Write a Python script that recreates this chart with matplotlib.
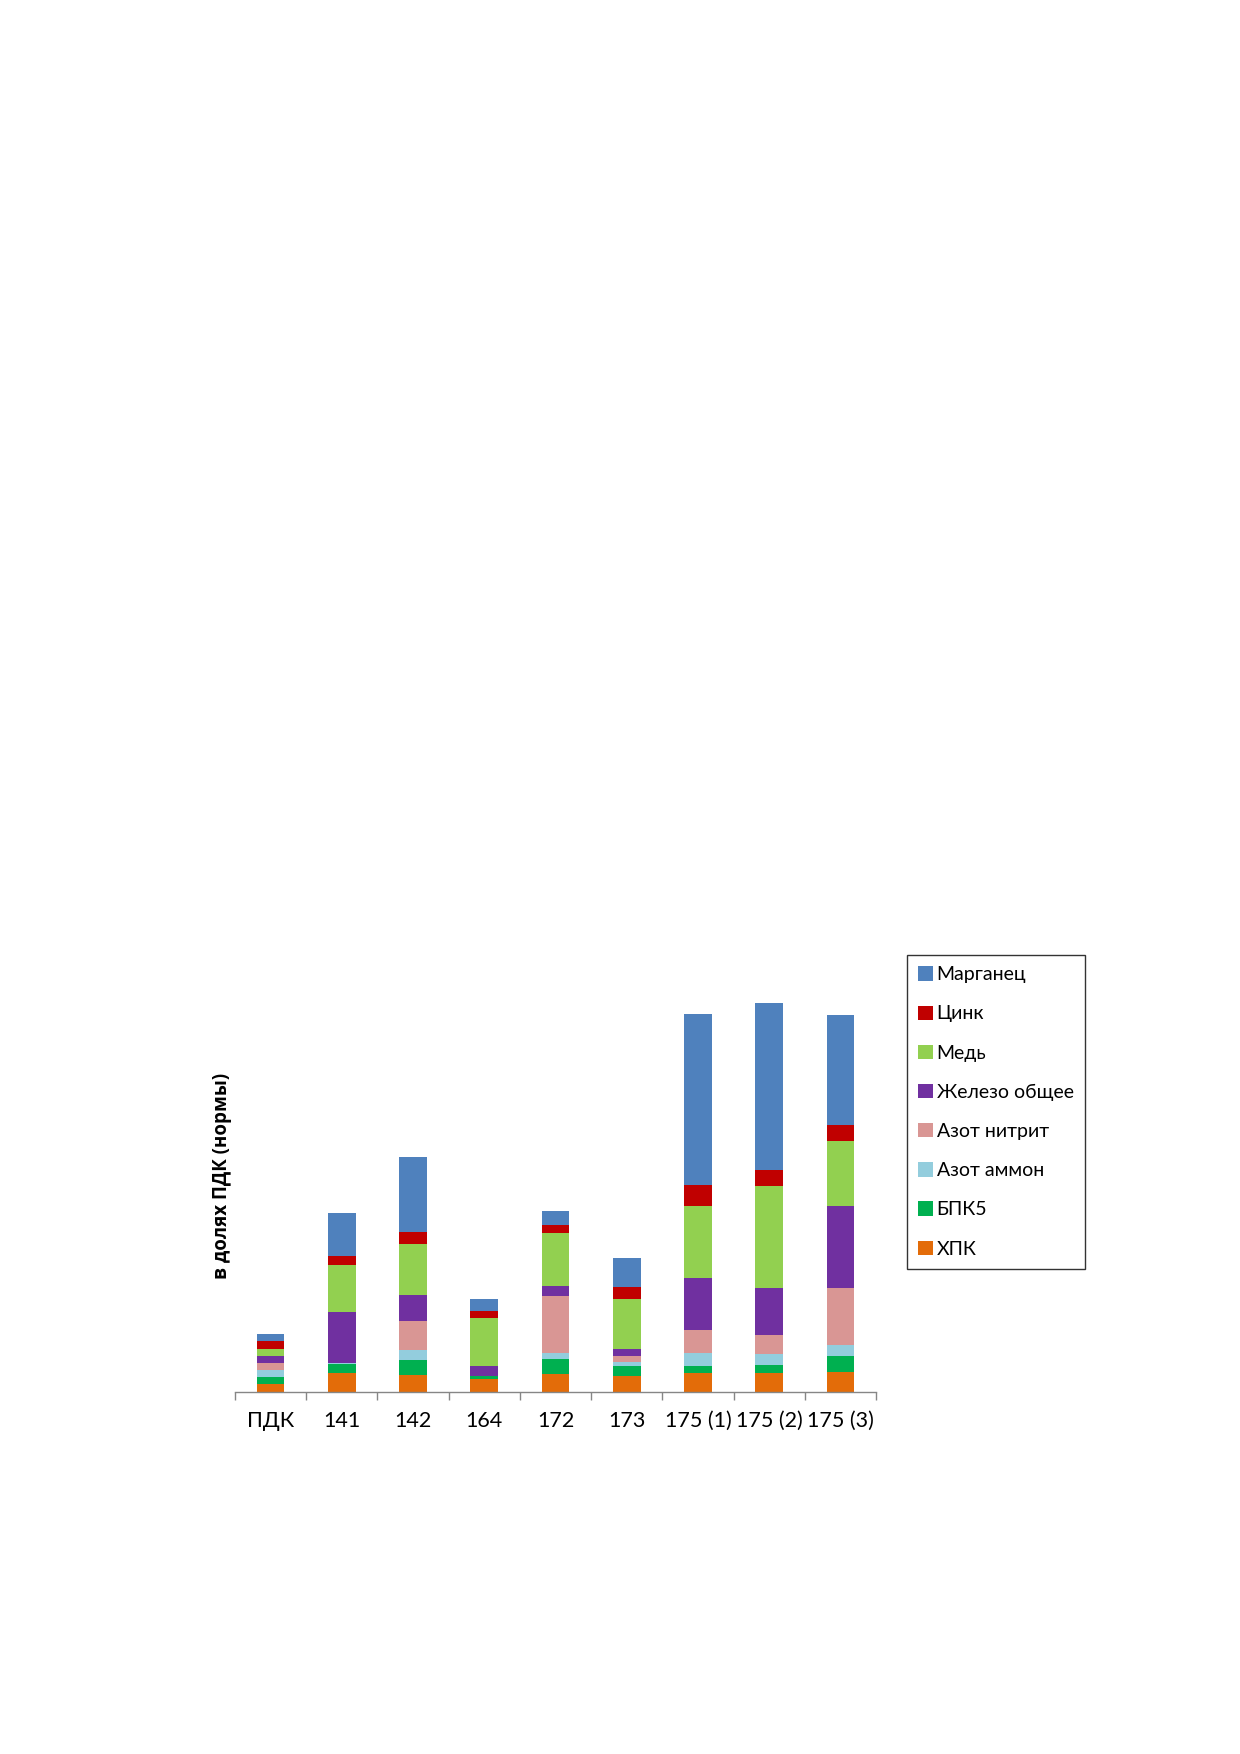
import matplotlib
matplotlib.use("Agg")
import matplotlib.pyplot as plt
from matplotlib.patches import Patch
import numpy as np

plt.rcParams['font.family'] = ['Lato', 'DejaVu Sans']

categories = ["ПДК", "141", "142", "164", "172", "173", "175 (1)", "175 (2)", "175 (3)"]

# values in fractions of ПДК (bottom to top)
hpk      = [1.0, 2.60, 2.28, 1.72, 2.42, 2.19, 2.56, 2.56, 2.74]
bpk5     = [1.0, 1.26, 2.09, 0.42, 2.09, 1.40, 1.02, 1.16, 2.23]
n_ammon  = [1.0, 0.14, 1.40, 0.00, 0.84, 0.47, 1.81, 1.53, 1.53]
n_nitrit = [1.0, 0.00, 4.05, 0.00, 7.95, 0.93, 3.21, 2.65, 7.95]
fe       = [1.0, 7.07, 3.63, 1.40, 1.40, 0.98, 7.26, 6.56, 11.44]
cu       = [1.0, 6.56, 7.12, 6.70, 7.40, 6.98, 10.05, 14.23, 9.07]
zn       = [1.0, 1.26, 1.67, 1.02, 1.12, 1.67, 2.93, 2.23, 2.23]
mn       = [1.0, 6.00, 10.47, 1.63, 1.95, 4.00, 23.86, 23.30, 15.35]

series_names = ["ХПК", "БПК5", "Азот аммон", "Азот нитрит", "Железо общее", "Медь", "Цинк", "Марганец"]
series_vals = [hpk, bpk5, n_ammon, n_nitrit, fe, cu, zn, mn]
colors = ["#E36C09", "#00B050", "#93CDDD", "#D99694", "#7030A0", "#92D050", "#C00000", "#4F81BD"]

fig = plt.figure(figsize=(12.4, 17.54), dpi=100)
ax = fig.add_axes([235/1240, 362.5/1754, 641/1240, 430/1754])

x = np.arange(len(categories))
bottom = np.zeros(len(categories))
for name, vals, c in zip(series_names, series_vals, colors):
    v = np.array(vals)
    ax.bar(x, v, 0.39, bottom=bottom, color=c, label=name, linewidth=0)
    bottom += v

ax.set_xlim(-0.5, len(categories) - 0.5)
ax.set_ylim(0, 60)
for s in ["top", "right", "left"]:
    ax.spines[s].set_visible(False)
ax.spines["bottom"].set_color("#868686")
ax.spines["bottom"].set_linewidth(1.0)
ax.set_yticks([])
ax.set_xticks(x)
ax.set_xticklabels(categories, fontsize=15.5)
ax.tick_params(axis="x", which="major", length=0, pad=14)
ax.set_xticks(np.arange(-0.5, len(categories), 1.0), minor=True)
ax.tick_params(axis="x", which="minor", length=6, color="#868686", width=1.0)

fig.text(222/1240, 1 - 1176/1754, "в долях ПДК (нормы)", rotation=90,
         ha="center", va="center", fontsize=13.5, fontweight="bold",
         family=['Open Sans', 'DejaVu Sans'])

handles = [Patch(facecolor=c, edgecolor="none") for c in colors][::-1]
labels = series_names[::-1]
leg = fig.legend(handles, labels, loc="upper left",
                 bbox_to_anchor=(907/1240, 1 - 955/1754),
                 fontsize=14, frameon=True, fancybox=False,
                 edgecolor="black", handlelength=0.75, handleheight=0.75,
                 handletextpad=0.2, labelspacing=1.14, borderpad=0.58,
                 borderaxespad=0)
leg.get_frame().set_linewidth(1.0)

fig.savefig("out.png", dpi=100, facecolor="white")
